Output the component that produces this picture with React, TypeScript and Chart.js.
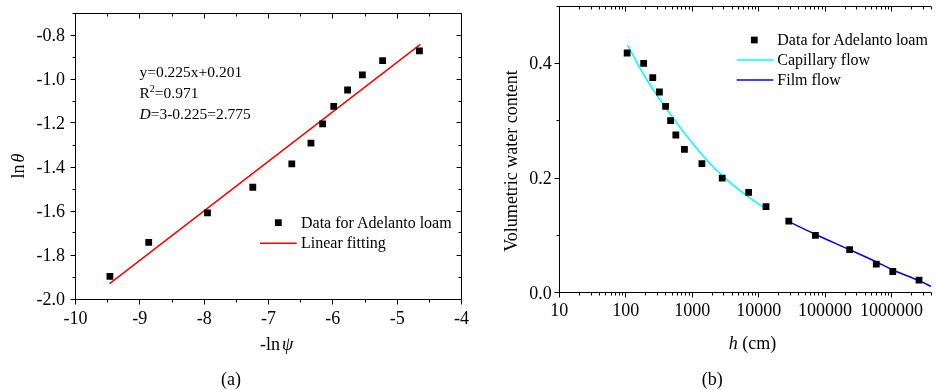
import React, { useEffect, useRef, useState } from 'react';
import { Chart, registerables } from 'chart.js';

Chart.register(...registerables);

const SERIF = "'Liberation Serif', 'Times New Roman', serif";

// ---- (a) ln(theta) against -ln(psi) ----
const negLnPsi = [-9.465, -8.862, -7.948, -7.244, -6.638, -6.340, -6.159, -5.986, -5.771, -5.541, -5.226, -4.654];
const lnTheta = [-1.897, -1.743, -1.609, -1.492, -1.386, -1.291, -1.204, -1.124, -1.050, -0.981, -0.916, -0.872];
const fitSlope = 0.225;
const fitIntercept = 0.201;
const fitFrom = -9.47;
const fitTo = -4.64;
const xTicksA = [-10, -9, -8, -7, -6, -5, -4];
const yTicksA = [-2.0, -1.8, -1.6, -1.4, -1.2, -1.0, -0.8];

// ---- (b) water retention of Adelanto loam ----
const suctionH = [105, 186, 255, 321, 398, 473, 567, 764, 1400, 2830, 7060, 12900, 28400, 71400, 234000, 589000, 1043000, 2590000];
const waterContent = [0.418, 0.400, 0.375, 0.350, 0.325, 0.300, 0.275, 0.250, 0.225, 0.200, 0.175, 0.150, 0.125, 0.100, 0.075, 0.050, 0.037, 0.022];
const capillaryH = [106, 200, 400, 700, 1000, 2000, 4000, 7000, 12900];
const capillaryTheta = [0.432, 0.374, 0.322, 0.284, 0.261, 0.221, 0.189, 0.167, 0.146];
const filmH = [28400, 70600, 234000, 582000, 1030000, 2590000, 3950000];
const filmTheta = [0.124, 0.102, 0.075, 0.054, 0.040, 0.021, 0.011];
const xTicksB = [10, 100, 1000, 10000, 100000, 1000000];
const yTicksB = [0, 0.2, 0.4];

const half = (v: number) => Math.floor(v) + 0.5;

// Axis frame with Origin-style tick marks (out on left/bottom, in on top/right)
const frameTicks = {
  id: 'frameTicks',
  afterDatasetsDraw(chart: any, _args: any, o: any) {
    const { ctx, chartArea: a, scales } = chart;
    const xs = scales.x;
    const ys = scales.y;
    const L = half(a.left), R = half(a.right - 0.01), T = half(a.top), B = half(a.bottom);
    ctx.save();
    ctx.strokeStyle = '#000';
    ctx.lineWidth = 1;
    ctx.beginPath();
    const seg = (x1: number, y1: number, x2: number, y2: number) => {
      ctx.moveTo(x1, y1);
      ctx.lineTo(x2, y2);
    };
    seg(L, T - 0.5, L, B + 0.5);
    seg(L - 0.5, B, a.right, B);
    seg(L - 0.5, T, a.right, T);
    if (o.right) seg(R, T, R, B);
    const xGroups: [number[], number][] = [[o.xMajor, 5], [o.xMinor, 3]];
    for (const [vals, len] of xGroups) {
      for (const v of vals) {
        const p = xs.getPixelForValue(v);
        if (p < a.left - 0.5 || p > a.right + 0.5) continue;
        const px = half(p);
        seg(px, B, px, B + len);
        seg(px, T, px, T + len);
      }
    }
    const yGroups: [number[], number][] = [[o.yMajor, 5], [o.yMinor, 3]];
    for (const [vals, len] of yGroups) {
      for (const v of vals) {
        const p = ys.getPixelForValue(v);
        if (p < a.top - 0.5 || p > a.bottom + 0.5) continue;
        const py = half(p);
        seg(L, py, L - len, py);
        if (o.right) seg(R, py, R - len, py);
      }
    }
    ctx.stroke();
    ctx.restore();
  },
};

// Legend keys (marker / line sample) drawn inside the plot area
const legendKeys = {
  id: 'legendKeys',
  afterDraw(chart: any, _args: any, o: any) {
    const { ctx } = chart;
    ctx.save();
    o.rows.forEach((row: any, i: number) => {
      const y = o.top + i * o.gap;
      const ds = chart.data.datasets[row.dataset];
      if (row.kind === 'point') {
        const s = ds.pointRadius * Math.SQRT1_2;
        ctx.fillStyle = ds.backgroundColor;
        ctx.fillRect(o.markerX - s, y - s, 2 * s, 2 * s);
      } else {
        ctx.strokeStyle = ds.borderColor;
        ctx.lineWidth = ds.borderWidth;
        ctx.beginPath();
        ctx.moveTo(o.lineFrom, y);
        ctx.lineTo(o.lineTo, y);
        ctx.stroke();
      }
    });
    ctx.restore();
  },
};

const fixedTicks = (vals: number[]) => (s: any) => {
  s.ticks = vals.map((value) => ({ value }));
};

const legendA = {
  top: 222.7,
  gap: 20.6,
  markerX: 278.3,
  lineFrom: 260,
  lineTo: 296.7,
  textX: 301,
  rows: [
    { kind: 'point', dataset: 0 },
    { kind: 'line', dataset: 1 },
  ],
};

const legendB = {
  top: 40,
  gap: 20,
  markerX: 754.3,
  lineFrom: 736.7,
  lineTo: 773.3,
  textX: 777.3,
  rows: [
    { kind: 'point', dataset: 0 },
    { kind: 'line', dataset: 1 },
    { kind: 'line', dataset: 2 },
  ],
};

function configA(): any {
  const points = negLnPsi.map((x, i) => ({ x, y: lnTheta[i] }));
  const fit = [fitFrom, fitTo].map((x) => ({ x, y: fitSlope * x + fitIntercept }));
  const minorX: number[] = [];
  for (let v = -9.5; v < -4; v += 1) minorX.push(v);
  const minorY: number[] = [];
  for (let k = -19; k <= -7; k += 2) minorY.push(k / 10);
  return {
    type: 'scatter',
    data: {
      datasets: [
        {
          label: 'Data for Adelanto loam',
          data: points,
          pointStyle: 'rect',
          pointRadius: 4.8,
          backgroundColor: '#000',
          borderWidth: 0,
          showLine: false,
        },
        {
          label: 'Linear fitting',
          data: fit,
          showLine: true,
          borderColor: '#ff0000',
          borderWidth: 1.5,
          pointRadius: 0,
          fill: false,
        },
      ],
    },
    options: {
      responsive: false,
      animation: false,
      events: [],
      layout: { padding: { left: 0, top: 13, right: 936 - 461.5, bottom: 0 } },
      plugins: {
        legend: { display: false },
        tooltip: { enabled: false },
        frameTicks: { right: true, xMajor: xTicksA, xMinor: minorX, yMajor: yTicksA, yMinor: minorY },
        legendKeys: legendA,
      },
      scales: {
        x: {
          type: 'linear',
          min: -10,
          max: -4,
          grid: { display: false, drawTicks: false },
          border: { display: false },
          afterBuildTicks: fixedTicks(xTicksA),
          ticks: { display: false },
          afterFit: (s: any) => {
            s.height = 91;
            s.paddingLeft = 0;
            s.paddingRight = 0;
          },
        },
        y: {
          type: 'linear',
          min: -2.0,
          max: -0.7,
          grid: { display: false, drawTicks: false },
          border: { display: false },
          afterBuildTicks: fixedTicks(yTicksA),
          ticks: { display: false },
          afterFit: (s: any) => {
            s.width = 75.5;
            s.paddingTop = 0;
            s.paddingBottom = 0;
          },
        },
      },
    },
    plugins: [frameTicks, legendKeys],
  };
}

function configB(): any {
  const points = suctionH.map((x, i) => ({ x, y: waterContent[i] }));
  const capillary = capillaryH.map((x, i) => ({ x, y: capillaryTheta[i] }));
  const film = filmH.map((x, i) => ({ x, y: filmTheta[i] }));
  const minorX: number[] = [];
  for (let d = 1; d <= 6; d++) for (let k = 2; k <= 9; k++) minorX.push(k * Math.pow(10, d));
  return {
    type: 'scatter',
    data: {
      datasets: [
        {
          label: 'Data for Adelanto loam',
          data: points,
          pointStyle: 'rect',
          pointRadius: 4.8,
          backgroundColor: '#000',
          borderWidth: 0,
          showLine: false,
        },
        {
          label: 'Capillary flow',
          data: capillary,
          showLine: true,
          borderColor: '#00ffff',
          borderWidth: 1.5,
          pointRadius: 0,
          cubicInterpolationMode: 'monotone',
          fill: false,
        },
        {
          label: 'Film flow',
          data: film,
          showLine: true,
          borderColor: '#0000ff',
          borderWidth: 1.5,
          pointRadius: 0,
          cubicInterpolationMode: 'monotone',
          fill: false,
        },
      ],
    },
    options: {
      responsive: false,
      animation: false,
      events: [],
      layout: { padding: { left: 468, top: 6, right: 0, bottom: 0 } },
      plugins: {
        legend: { display: false },
        tooltip: { enabled: false },
        frameTicks: { right: false, xMajor: xTicksB, xMinor: minorX, yMajor: yTicksB, yMinor: [0.1, 0.3, 0.5] },
        legendKeys: legendB,
      },
      scales: {
        x: {
          type: 'logarithmic',
          min: 10,
          max: 3950000,
          grid: { display: false, drawTicks: false },
          border: { display: false },
          afterBuildTicks: fixedTicks(xTicksB),
          ticks: { display: false },
          afterFit: (s: any) => {
            s.height = 97.3;
            s.paddingLeft = 0;
            s.paddingRight = 0;
          },
        },
        y: {
          type: 'linear',
          min: 0,
          max: 0.5,
          grid: { display: false, drawTicks: false },
          border: { display: false },
          afterBuildTicks: fixedTicks(yTicksB),
          ticks: { display: false },
          afterFit: (s: any) => {
            s.width = 91.3;
            s.paddingTop = 0;
            s.paddingBottom = 0;
          },
        },
      },
    },
    plugins: [frameTicks, legendKeys],
  };
}

type Label = { text: string; x: number; y: number; align: 'center' | 'right' | 'left'; size: number };

// Tick labels and legend entries, placed from the chart's own scales
function collectLabels(
  chart: any,
  xTicks: number[],
  yTicks: number[],
  fmtX: (v: number) => string,
  fmtY: (v: number) => string,
  xDrop: number,
  yGap: number,
  legend: any
): Label[] {
  const out: Label[] = [];
  const a = chart.chartArea;
  xTicks.forEach((v) => {
    out.push({ text: fmtX(v), x: chart.scales.x.getPixelForValue(v), y: a.bottom + xDrop, align: 'center', size: 18 });
  });
  yTicks.forEach((v) => {
    out.push({ text: fmtY(v), x: a.left - yGap, y: chart.scales.y.getPixelForValue(v), align: 'right', size: 18 });
  });
  legend.rows.forEach((row: any, i: number) => {
    out.push({
      text: chart.data.datasets[row.dataset].label,
      x: legend.textX,
      y: legend.top + i * legend.gap,
      align: 'left',
      size: 16,
    });
  });
  return out;
}

const abs = (x: number, y: number, extra: React.CSSProperties = {}): React.CSSProperties => ({
  position: 'absolute',
  left: x,
  top: y,
  transform: 'translate(-50%, -50%)',
  whiteSpace: 'nowrap',
  lineHeight: 1,
  ...extra,
});

export default function App() {
  const refA = useRef<HTMLCanvasElement>(null);
  const refB = useRef<HTMLCanvasElement>(null);
  const [labels, setLabels] = useState<Label[]>([]);

  useEffect(() => {
    const chartA = new Chart(refA.current as HTMLCanvasElement, configA());
    const chartB = new Chart(refB.current as HTMLCanvasElement, configB());
    setLabels([
      ...collectLabels(chartA, xTicksA, yTicksA, (v) => String(v), (v) => v.toFixed(1), 18.5, 10.5, legendA),
      ...collectLabels(chartB, xTicksB, yTicksB, (v) => String(v), (v) => v.toFixed(1), 17.3, 7.6, legendB),
    ]);
    return () => {
      chartA.destroy();
      chartB.destroy();
    };
  }, []);

  const canvasStyle: React.CSSProperties = { position: 'absolute', left: 0, top: 0 };
  const note: React.CSSProperties = {
    position: 'absolute',
    left: 139.5,
    transform: 'translateY(-50%)',
    whiteSpace: 'nowrap',
    lineHeight: 1,
    fontSize: 15.5,
  };

  return (
    <div
      style={{
        position: 'fixed',
        left: 0,
        top: 0,
        width: 936,
        height: 390,
        overflow: 'hidden',
        background: '#fff',
        color: '#000',
        fontFamily: SERIF,
      }}
    >
      <canvas ref={refA} width={936} height={390} style={canvasStyle} />
      <canvas ref={refB} width={936} height={390} style={canvasStyle} />

      {labels.map((l, i) => {
        const shift = l.align === 'center' ? '-50%' : l.align === 'right' ? '-100%' : '0';
        return (
          <div
            key={i}
            style={{
              position: 'absolute',
              left: l.x,
              top: l.y,
              transform: `translate(${shift}, -50%)`,
              whiteSpace: 'nowrap',
              lineHeight: 1,
              fontSize: l.size,
            }}
          >
            {l.text}
          </div>
        );
      })}

      {/* panel (a) */}
      <div style={{ ...note, top: 71.7 }}>y=0.225x+0.201</div>
      <div style={{ ...note, top: 93 }}>
        R<span style={{ fontSize: 10, position: 'relative', top: -6 }}>2</span>=0.971
      </div>
      <div style={{ ...note, top: 114.3 }}>
        <i>D</i>=3-0.225=2.775
      </div>
      <div style={abs(18, 166, { fontSize: 18, transform: 'translate(-50%, -50%) rotate(-90deg)' })}>
        ln<i style={{ marginLeft: 2 }}>θ</i>
      </div>
      <div style={abs(276.5, 344, { fontSize: 18 })}>
        -ln<i style={{ marginLeft: 2 }}>ψ</i>
      </div>
      <div style={abs(231, 379.3, { fontSize: 18 })}>(a)</div>

      {/* panel (b) */}
      <div style={abs(511, 161, { fontSize: 18, transform: 'translate(-50%, -50%) rotate(-90deg)' })}>
        Volumetric water content
      </div>
      <div style={abs(752.5, 342.7, { fontSize: 18 })}>
        <i>h</i> (cm)
      </div>
      <div style={abs(712.3, 379.3, { fontSize: 18 })}>(b)</div>
    </div>
  );
}
